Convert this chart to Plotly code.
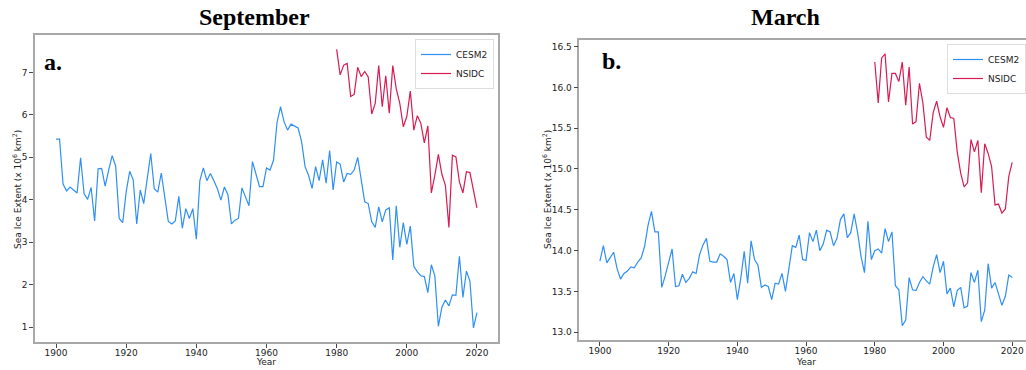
import plotly.graph_objects as go

W, H = 1026, 370

years_cesm2 = list(range(1900, 2021))
years_nsidc = list(range(1980, 2021))
xtick_vals = [1900, 1920, 1940, 1960, 1980, 2000, 2020]
sep_ytick_vals = [1, 2, 3, 4, 5, 6, 7]
mar_ytick_vals = [13.0, 13.5, 14.0, 14.5, 15.0, 15.5, 16.0, 16.5]

sep_cesm2 = [
    5.43, 5.43, 4.37, 4.21, 4.30, 4.22, 4.16, 4.99, 4.14, 4.01,
    4.29, 3.50, 4.73, 4.74, 4.32, 4.70, 5.04, 4.79, 3.56, 3.46,
    4.19, 4.67, 4.47, 3.43, 4.23, 3.91, 4.50, 5.09, 4.26, 4.18,
    4.63, 4.10, 3.49, 3.43, 3.50, 4.08, 3.33, 3.79, 3.56, 3.79,
    3.07, 4.45, 4.75, 4.45, 4.62, 4.45, 4.26, 3.99, 4.30, 4.12,
    3.43, 3.52, 3.56, 4.28, 4.09, 3.86, 4.90, 4.62, 4.31, 4.31,
    4.75, 4.70, 4.93, 5.82, 6.19, 5.84, 5.64, 5.78, 5.74, 5.69,
    5.37, 4.78, 4.57, 4.27, 4.78, 4.45, 4.94, 4.39, 5.16, 4.23,
    4.89, 4.84, 4.42, 4.62, 4.60, 4.70, 5.00, 4.47, 3.95, 3.91,
    3.48, 3.35, 3.83, 3.48, 3.76, 3.81, 2.58, 3.86, 2.88, 3.46,
    2.95, 3.38, 2.43, 2.30, 2.21, 2.19, 1.81, 2.47, 2.20, 1.02,
    1.47, 1.64, 1.50, 1.76, 1.75, 2.67, 1.70, 2.32, 2.08, 0.98,
    1.34,
]

sep_nsidc = [
    7.54, 6.94, 7.17, 7.21, 6.43, 6.48, 7.12, 6.90, 7.02, 6.89,
    6.02, 6.27, 7.16, 6.19, 6.92, 6.04, 7.16, 6.61, 6.27, 5.72,
    5.96, 6.56, 5.64, 5.98, 5.80, 5.34, 5.74, 4.16, 4.58, 5.07,
    4.60, 4.34, 3.35, 5.05, 5.01, 4.42, 4.16, 4.66, 4.64, 4.20,
    3.81,
]

mar_cesm2 = [
    13.87, 14.06, 13.85, 13.91, 13.98, 13.78, 13.65, 13.72, 13.75, 13.80,
    13.79, 13.86, 13.91, 14.05, 14.31, 14.48, 14.23, 14.23, 13.55, 13.69,
    13.85, 14.02, 13.56, 13.57, 13.71, 13.61, 13.66, 13.74, 13.72, 13.95,
    14.07, 14.15, 13.87, 13.86, 13.86, 13.96, 13.93, 13.89, 13.61, 13.72,
    13.40, 13.66, 13.99, 13.60, 14.12, 13.89, 13.82, 13.55, 13.58, 13.56,
    13.40, 13.60, 13.59, 13.72, 13.50, 13.76, 14.06, 14.04, 14.19, 13.89,
    13.88, 14.22, 14.11, 14.25, 14.00, 14.08, 14.25, 14.23, 14.06, 14.15,
    14.38, 14.45, 14.16, 14.22, 14.45, 14.22, 13.93, 13.73, 14.36, 13.89,
    14.00, 14.02, 13.97, 14.27, 14.11, 14.23, 13.57, 13.52, 13.08, 13.15,
    13.67, 13.52, 13.51, 13.61, 13.68, 13.63, 13.59, 13.80, 13.95, 13.73,
    13.87, 13.47, 13.54, 13.31, 13.51, 13.55, 13.30, 13.32, 13.73, 13.61,
    13.76, 13.13, 13.27, 13.84, 13.54, 13.61, 13.47, 13.33, 13.44, 13.70,
    13.67,
]

mar_nsidc = [
    16.31, 15.81, 16.36, 16.41, 15.82, 16.17, 16.17, 16.07, 16.31, 15.78,
    16.25, 15.55, 15.58, 16.05, 15.81, 15.39, 15.35, 15.69, 15.83, 15.64,
    15.51, 15.75, 15.63, 15.62, 15.21, 14.95, 14.78, 14.83, 15.36, 15.21,
    15.35, 14.71, 15.31, 15.19, 15.03, 14.56, 14.57, 14.46, 14.51, 14.91,
    15.08,
]

BLUE = "#2f8ff5"
RED = "#d81b50"
TICK_FONT = dict(family="DejaVu Sans", size=9, color="#222")
FRAME = "#a8a8a8"

fig = go.Figure()
fig.add_trace(go.Scatter(x=years_cesm2, y=sep_cesm2, mode="lines", name="CESM2",
                         line=dict(color=BLUE, width=1.2), xaxis="x", yaxis="y", legend="legend"))
fig.add_trace(go.Scatter(x=years_nsidc, y=sep_nsidc, mode="lines", name="NSIDC",
                         line=dict(color=RED, width=1.2), xaxis="x", yaxis="y", legend="legend"))
fig.add_trace(go.Scatter(x=years_cesm2, y=mar_cesm2, mode="lines", name="CESM2",
                         line=dict(color=BLUE, width=1.2), xaxis="x2", yaxis="y2", legend="legend2"))
fig.add_trace(go.Scatter(x=years_nsidc, y=mar_nsidc, mode="lines", name="NSIDC",
                         line=dict(color=RED, width=1.2), xaxis="x2", yaxis="y2", legend="legend2"))

axis_common = dict(showgrid=False, zeroline=False, showline=True, linecolor=FRAME, linewidth=1.5,
                   ticks="outside", ticklen=4, tickcolor="#444", tickwidth=1, tickfont=TICK_FONT,
                   automargin=False)

x2_px_per_year = (1012.3 - 600.0) / 120.0
x2_end = 1894 + (W - 579.3) / x2_px_per_year

legend_common = dict(font=dict(family="DejaVu Sans", size=9, color="#222"),
                     bgcolor="rgba(255,255,255,0.8)", bordercolor="#dddddd", borderwidth=1,
                     itemwidth=30, tracegroupgap=0, yanchor="top")

fig.update_layout(
    width=W, height=H,
    margin=dict(l=0, r=0, t=0, b=0, autoexpand=False),
    paper_bgcolor="white", plot_bgcolor="white",
    xaxis=dict(domain=[35 / W, 498 / W], range=[1894, 2026], tickvals=xtick_vals,
               anchor="y", mirror=True, ticklabelstandoff=-3, **axis_common),
    yaxis=dict(domain=[1 - 342 / H, 1 - 35 / H], range=[0.65, 7.88], tickvals=sep_ytick_vals,
               anchor="x", mirror=True, **axis_common),
    xaxis2=dict(domain=[579.3 / W, 1.0], range=[1894, x2_end], tickvals=xtick_vals,
                anchor="y2", mirror=True, ticklabelstandoff=-3, **axis_common),
    yaxis2=dict(domain=[1 - 340 / H, 1 - 40 / H], range=[12.905, 16.58], tickvals=mar_ytick_vals,
                tickformat=".1f", anchor="x2", mirror=False, **axis_common),
    legend=dict(x=494 / W, xanchor="right", y=1 - 39 / H, **legend_common),
    legend2=dict(x=1.0, xanchor="right", y=1 - 44 / H, **legend_common),
    showlegend=True,
)

serif = "Liberation Serif, Times New Roman, serif"
ann = [
    dict(text="<b>September</b>", x=254 / W, y=1 - 17 / H, font=dict(family=serif, size=24, color="black")),
    dict(text="<b>March</b>", x=785 / W, y=1 - 17 / H, font=dict(family=serif, size=24, color="black")),
    dict(text="<b>a.</b>", x=53 / W, y=1 - 62 / H, font=dict(family=serif, size=24, color="black")),
    dict(text="<b>b.</b>", x=611 / W, y=1 - 61 / H, font=dict(family=serif, size=24, color="black")),
    dict(text="Year", x=266 / W, y=1 - 362 / H, font=dict(family="DejaVu Sans", size=9, color="#222")),
    dict(text="Year", x=806 / W, y=1 - 362 / H, font=dict(family="DejaVu Sans", size=9, color="#222")),
    dict(text="Sea Ice Extent (x 10<sup>6</sup> km<sup>2</sup>)", x=17 / W, y=1 - 190 / H, textangle=-90,
         font=dict(family="DejaVu Sans", size=9, color="#222")),
    dict(text="Sea Ice Extent (x 10<sup>6</sup> km<sup>2</sup>)", x=547 / W, y=1 - 190 / H, textangle=-90,
         font=dict(family="DejaVu Sans", size=9, color="#222")),
]
for a in ann:
    a.update(xref="paper", yref="paper", showarrow=False, xanchor="center", yanchor="middle")
fig.update_layout(annotations=ann)

fig.write_html("out.html")
